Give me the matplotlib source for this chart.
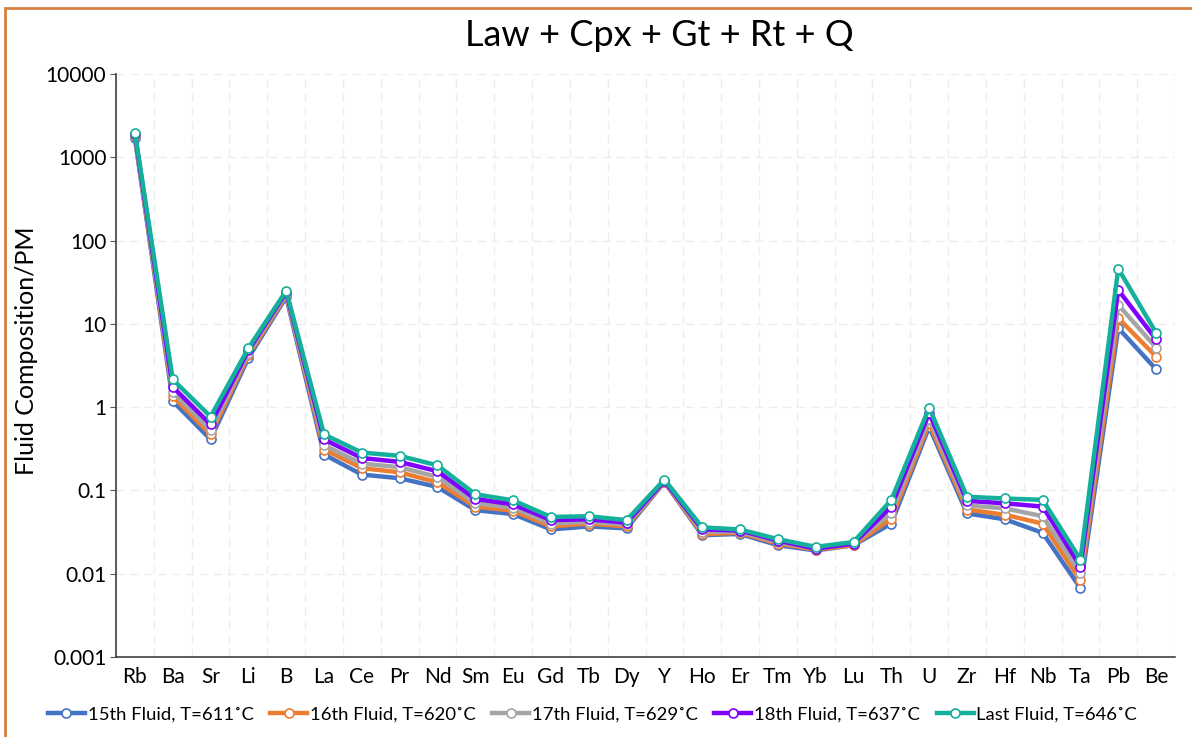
import numpy as np
import matplotlib.pyplot as plt
from matplotlib.patches import Rectangle

plt.rcParams['font.family'] = ['Lato', 'DejaVu Sans']

elements = ['Rb', 'Ba', 'Sr', 'Li', 'B', 'La', 'Ce', 'Pr', 'Nd', 'Sm', 'Eu', 'Gd', 'Tb', 'Dy',
            'Y', 'Ho', 'Er', 'Tm', 'Yb', 'Lu', 'Th', 'U', 'Zr', 'Hf', 'Nb', 'Ta', 'Pb', 'Be']

fluid15 = [1700, 1.18, 0.41, 3.9, 21, 0.27, 0.155, 0.14, 0.11, 0.058, 0.052, 0.034, 0.037, 0.035,
           0.126, 0.029, 0.030, 0.022, 0.019, 0.022, 0.040, 0.58, 0.053, 0.045, 0.031, 0.0067, 8.9, 2.85]
fluid16 = [1780, 1.35, 0.47, 4.2, 22, 0.31, 0.185, 0.165, 0.125, 0.064, 0.057, 0.037, 0.040, 0.037,
           0.127, 0.030, 0.031, 0.023, 0.0195, 0.022, 0.046, 0.64, 0.059, 0.051, 0.040, 0.0083, 11.7, 4.05]
fluid17 = [1830, 1.52, 0.53, 4.5, 23, 0.35, 0.21, 0.19, 0.145, 0.070, 0.062, 0.040, 0.042, 0.039,
           0.128, 0.032, 0.032, 0.024, 0.020, 0.023, 0.054, 0.72, 0.066, 0.061, 0.049, 0.0101, 16.9, 5.2]
fluid18 = [1900, 1.75, 0.62, 4.8, 24, 0.41, 0.245, 0.22, 0.17, 0.079, 0.068, 0.044, 0.045, 0.041,
           0.130, 0.034, 0.033, 0.025, 0.020, 0.023, 0.064, 0.85, 0.075, 0.070, 0.064, 0.0122, 25.5, 6.5]
fluidLast = [1980, 2.15, 0.77, 5.1, 25, 0.47, 0.285, 0.26, 0.20, 0.090, 0.076, 0.048, 0.049, 0.044,
             0.135, 0.036, 0.034, 0.026, 0.021, 0.024, 0.077, 0.99, 0.084, 0.080, 0.077, 0.0148, 46, 7.8]

labels = ['15th Fluid, T=611˚C', '16th Fluid, T=620˚C', '17th Fluid, T=629˚C',
          '18th Fluid, T=637˚C', 'Last Fluid, T=646˚C']
colors = ['#4472C4', '#ED7D31', '#A5A5A5', '#8000FF', '#15B09B']

fig = plt.figure(figsize=(11.92, 7.37), dpi=100)
ax = fig.add_axes([116 / 1192, 1 - 657 / 737, (1175 - 116) / 1192, (657 - 74) / 737])

x = np.arange(len(elements))
for series, label, c in zip([fluid15, fluid16, fluid17, fluid18, fluidLast], labels, colors):
    ax.plot(x, series, color=c, lw=3.2, marker='o', ms=6.5, mfc='white', mec=c, mew=1.2,
            label=label, zorder=3)

ax.set_yscale('log')
ax.set_ylim(0.001, 10000)
ax.set_xlim(-0.5, len(elements) - 0.5)
ax.set_yticks([0.001, 0.01, 0.1, 1, 10, 100, 1000, 10000])
ax.set_yticklabels(['0.001', '0.01', '0.1', '1', '10', '100', '1000', '10000'])
ax.yaxis.set_minor_locator(plt.NullLocator())
ax.set_xticks(x)
ax.set_xticklabels(elements)
ax.set_xticks(np.arange(-0.5, len(elements)), minor=True)
ax.tick_params(axis='x', which='both', length=0, labelsize=15, pad=7)
ax.tick_params(axis='y', length=4, width=0.8, color='#595959', labelsize=15, pad=3)

# dashed gridlines: decades and category boundaries
ax.grid(axis='y', which='major', color='#EDEDED', ls=(0, (6, 4)), lw=1)
ax.grid(axis='x', which='minor', color='#EDEDED', ls=(0, (6, 4)), lw=1)
ax.set_axisbelow(True)

for s in ['top', 'right']:
    ax.spines[s].set_visible(False)
for s in ['left', 'bottom']:
    ax.spines[s].set_color('#404040')
    ax.spines[s].set_linewidth(1.2)

ax.set_ylabel('Fluid Composition/PM', fontsize=18)
ax.yaxis.set_label_coords(-0.074, 0.525)
fig.text(0.553, 0.952, 'Law + Cpx + Gt + Rt + Q', ha='center', va='center', fontsize=26)

fig.legend(loc='center', bbox_to_anchor=(0.497, 0.031), ncol=5, frameon=False, fontsize=13.3,
           handlelength=2.0, columnspacing=0.9, handletextpad=0.15)

# orange frame around the chart
fig.patches.append(Rectangle((5 / 1192, -0.05), 1.1, 1 - 8 / 737 + 0.05, transform=fig.transFigure,
                             fill=False, ec='#D5803E', lw=2))

plt.savefig('out.png', dpi=100)
